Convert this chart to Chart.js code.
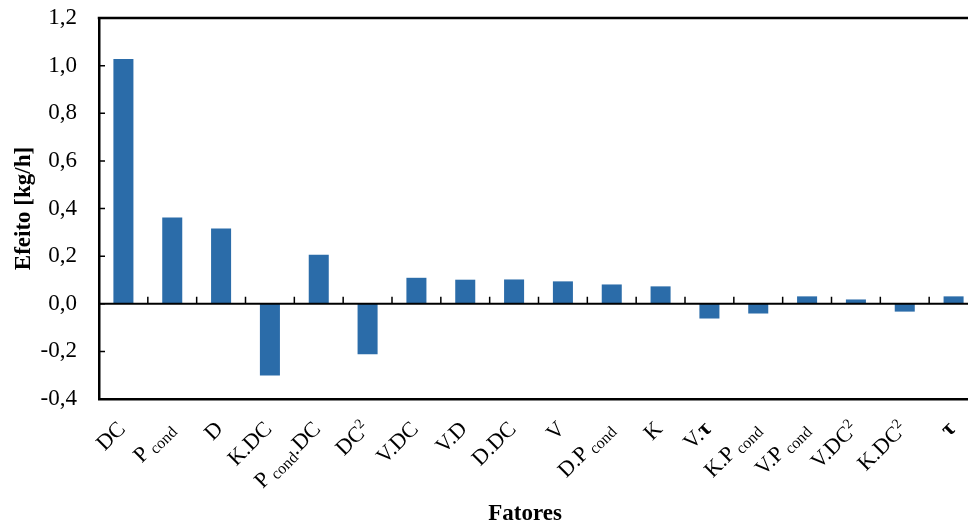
<!DOCTYPE html>
<html>
<head>
<meta charset="utf-8">
<script src="https://cdn.jsdelivr.net/npm/chart.js@4/dist/chart.umd.min.js"></script>
<style>
  html, body { margin: 0; padding: 0; overflow: hidden; background: #fff; }
  canvas { display: block; }
</style>
</head>
<body>
<canvas id="c" width="980" height="527"></canvas>
<script>
// Factor names: _{..} marks a subscript run, ^{..} a superscript run
const factorLabels = ["DC", "P_{cond}", "D", "K.DC", "P_{cond}.DC", "DC^{2}", "V.DC", "V.D", "D.DC", "V",
                      "D.P_{cond}", "K", "V.τ", "K.P_{cond}", "V.P_{cond}", "V.DC^{2}", "K.DC^{2}", "τ"];
// Effect of each factor [kg/h]
const effects = [1.028, 0.362, 0.316, -0.301, 0.206, -0.212, 0.109, 0.101, 0.102, 0.094,
                 0.081, 0.073, -0.062, -0.041, 0.031, 0.018, -0.033, 0.031];
// Value axis ticks
const yTicks = [-0.4, -0.2, 0.0, 0.2, 0.4, 0.6, 0.8, 1.0, 1.2];

const SERIF = "'Liberation Serif', 'Times New Roman', serif";

// Split "P_{cond}.DC" into runs of normal / sub / sup text; τ gets its own run
function parseRuns(s) {
  const runs = [];
  const re = /([_^])\{([^}]*)\}/g;
  const pushNormal = t => {
    t.split(/(τ)/).filter(p => p.length).forEach(p => runs.push({ t: p, k: p === 'τ' ? 'tau' : 'n' }));
  };
  let last = 0, m;
  while ((m = re.exec(s)) !== null) {
    if (m.index > last) pushNormal(s.slice(last, m.index));
    runs.push({ t: m[2], k: m[1] === '_' ? 'sub' : 'sup' });
    last = re.lastIndex;
  }
  if (last < s.length) pushNormal(s.slice(last));
  return runs;
}

function runFont(r) {
  if (r.k === 'sub') return '16px ' + SERIF;
  if (r.k === 'sup') return '14px ' + SERIF;
  if (r.k === 'tau') return 'bold 23px ' + SERIF;
  return '22px ' + SERIF;
}

const framePlugin = {
  id: 'frame',
  afterDatasetsDraw(chart) {
    const { ctx, chartArea: a, scales: { x, y } } = chart;
    ctx.save();
    ctx.strokeStyle = '#000';
    ctx.lineCap = 'butt';

    // top edge of the plot box
    ctx.lineWidth = 2.5;
    ctx.beginPath();
    ctx.moveTo(a.left - 1.25, a.top);
    ctx.lineTo(a.right + 5, a.top);
    ctx.stroke();

    // zero line with category separators pointing up
    const y0 = y.getPixelForValue(0);
    ctx.lineWidth = 1.8;
    ctx.beginPath();
    ctx.moveTo(a.left, y0);
    ctx.lineTo(a.right, y0);
    ctx.stroke();

    ctx.lineWidth = 1.5;
    ctx.beginPath();
    for (let i = 1; i <= factorLabels.length; i++) {
      const bx = (x.getPixelForValue(i - 1) + x.getPixelForValue(i)) / 2;
      ctx.moveTo(bx, y0);
      ctx.lineTo(bx, y0 - 7);
    }
    ctx.stroke();

    // value ticks pointing into the plot
    ctx.beginPath();
    for (const v of yTicks) {
      const py = y.getPixelForValue(v);
      ctx.moveTo(a.left, py);
      ctx.lineTo(a.left + 6, py);
    }
    ctx.stroke();

    // rotated factor names below the plot box
    ctx.fillStyle = '#000';
    ctx.textBaseline = 'alphabetic';
    ctx.textAlign = 'left';
    factorLabels.forEach((lab, i) => {
      const runs = parseRuns(lab);
      let total = 0;
      runs.forEach(r => { ctx.font = runFont(r); r.w = ctx.measureText(r.t).width + (r.k === 'sub' ? 4 : 0); total += r.w; });
      const cx = x.getPixelForValue(i);
      ctx.save();
      ctx.translate(cx + 3, a.bottom + 31);
      ctx.rotate(-Math.PI / 4);
      let pos = -total;
      runs.forEach(r => {
        ctx.font = runFont(r);
        const dy = r.k === 'sub' ? 4 : (r.k === 'sup' ? -8 : 0);
        const dx = r.k === 'sub' ? 4 : 0;
        ctx.fillText(r.t, pos + dx, dy);
        pos += r.w;
      });
      ctx.restore();
    });

    // axis title under the factor names
    ctx.font = 'bold 23px ' + SERIF;
    ctx.textAlign = 'center';
    ctx.textBaseline = 'middle';
    ctx.fillText('Fatores', 525, 514);
    ctx.restore();
  }
};

new Chart(document.getElementById('c'), {
  type: 'bar',
  data: {
    labels: factorLabels,
    datasets: [{
      data: effects,
      backgroundColor: '#2b6ca9',
      borderWidth: 0,
      barPercentage: 0.41,
      categoryPercentage: 1.0
    }]
  },
  options: {
    responsive: false,
    animation: false,
    devicePixelRatio: 1,
    layout: { padding: { top: 18, right: 2, left: 0, bottom: 0 } },
    plugins: { legend: { display: false }, tooltip: { enabled: false } },
    scales: {
      x: {
        offset: true,
        grid: { display: false },
        border: { display: true, color: '#000', width: 2.5 },
        ticks: { display: false },
        afterFit(scale) { scale.height = 128; scale.paddingLeft = 0; scale.paddingRight = 0; }
      },
      y: {
        min: -0.4,
        max: 1.2,
        grid: { display: false, drawTicks: false },
        border: { display: true, color: '#000', width: 2.5 },
        afterBuildTicks(scale) { scale.ticks = yTicks.map(v => ({ value: v })); },
        ticks: {
          color: '#000',
          padding: 22,
          font: { family: SERIF, size: 23 },
          callback: v => v.toFixed(1).replace('.', ',')
        },
        title: {
          display: true,
          text: 'Efeito [kg/h]',
          color: '#000',
          font: { family: SERIF, size: 23, weight: 'bold' },
          padding: { top: 10, bottom: 0 }
        },
        afterFit(scale) { scale.width = 99; scale.paddingTop = 0; scale.paddingBottom = 0; }
      }
    }
  },
  plugins: [framePlugin]
});
</script>
</body>
</html>
